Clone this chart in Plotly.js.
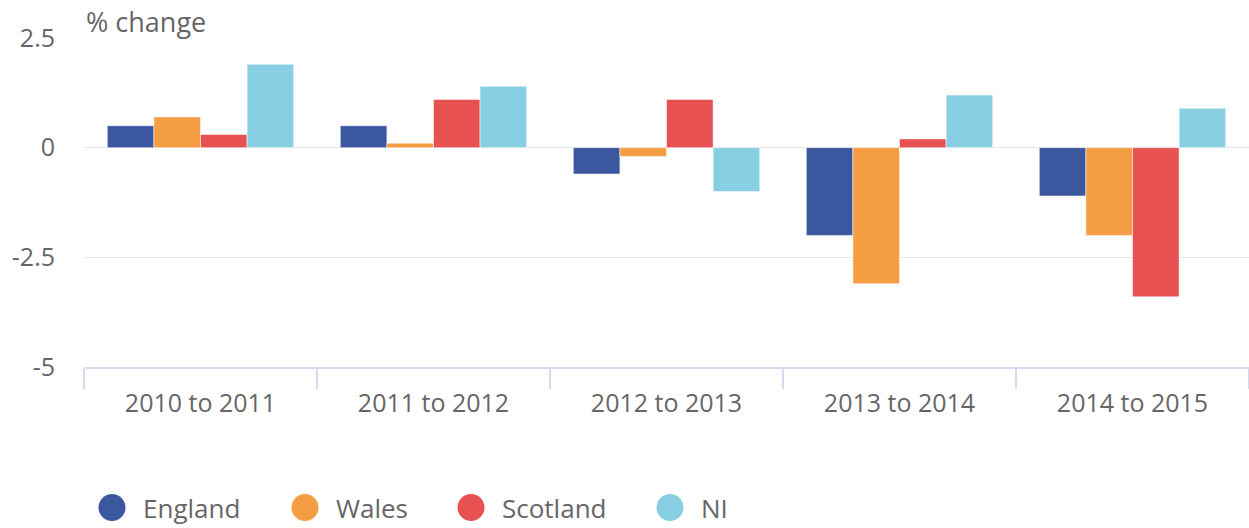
<!DOCTYPE html>
<html><head><meta charset="utf-8">
<script src="https://cdn.plot.ly/plotly-3.0.1.min.js"></script>
<style>html,body{margin:0;padding:0;background:#fff;overflow:hidden}</style>
</head><body>
<div id="chart" style="width:1249px;height:528px"></div>
<script>
const categories = ["2010 to 2011", "2011 to 2012", "2012 to 2013", "2013 to 2014", "2014 to 2015"];
const england  = [0.5, 0.5, -0.6, -2.0, -1.1];
const wales    = [0.7, 0.1, -0.2, -3.1, -2.0];
const scotland = [0.3, 1.1, 1.1, 0.2, -3.4];
const ni       = [1.9, 1.4, -1.0, 1.2, 0.9];
const seriesNames = ["England", "Wales", "Scotland", "NI"];
const yTickVals = [-5, -2.5, 0, 2.5];
const yTickText = ["-5", "-2.5", "0", "2.5"];

const colors = ["#3B57A0", "#F59D42", "#E85152", "#89CFE4"];
const values = [england, wales, scotland, ni];
const font = "'Open Sans', 'Noto Sans', sans-serif";

const W = 1249, H = 528;
const M = {l: 84, r: 0, t: 38, b: 161};
const plotW = W - M.l - M.r, plotH = H - M.t - M.b;
const px2x = p => (p - M.l) / plotW;
const py2y = p => (H - M.b - p) / plotH;

const traces = values.map((v, i) => ({
  type: "bar", x: categories, y: v, name: seriesNames[i],
  marker: {color: colors[i], line: {color: "rgba(255,255,255,0.5)", width: 1}},
  showlegend: false, hoverinfo: "x+y+name"
}));

// custom legend: circle markers + labels
const legendCenters = [112, 305, 471, 670];
const legendY = py2y(507.5);
const shapes = [];
const annotations = [{
  text: "% change", xref: "paper", yref: "paper", x: px2x(84), y: py2y(22),
  xanchor: "left", yanchor: "middle", showarrow: false,
  font: {size: 27, color: "#666666", family: font}
}];
seriesNames.forEach((n, i) => {
  const cx = px2x(legendCenters[i]);
  shapes.push({
    type: "circle", xref: "paper", yref: "paper",
    xsizemode: "pixel", ysizemode: "pixel", xanchor: cx, yanchor: legendY,
    x0: -13.5, x1: 13.5, y0: -13.5, y1: 13.5,
    fillcolor: colors[i], line: {width: 0}, layer: "above"
  });
  annotations.push({
    text: n, xref: "paper", yref: "paper", x: px2x(legendCenters[i] + 29), y: legendY,
    xanchor: "left", yanchor: "middle", showarrow: false,
    font: {size: 26, color: "#666666", family: font}
  });
});

const layout = {
  width: W, height: H, margin: M,
  paper_bgcolor: "#fff", plot_bgcolor: "#fff",
  font: {family: font, color: "#666666", size: 25},
  barmode: "group", bargap: 0.2, bargroupgap: 0,
  xaxis: {
    type: "category", tickson: "boundaries", ticks: "outside", ticklen: 20,
    tickcolor: "#d3dbee", tickwidth: 2,
    showline: true, linecolor: "#d3dbee", linewidth: 2,
    showgrid: false, zeroline: false,
    tickfont: {size: 25, color: "#666666"}, ticklabelstandoff: 13,
    fixedrange: true
  },
  yaxis: {
    range: [-5, 2.5], tickvals: yTickVals, ticktext: yTickText,
    showgrid: true, gridcolor: "#e6e6e6", gridwidth: 1.5,
    zeroline: true, zerolinecolor: "#e6e6e6", zerolinewidth: 1.5,
    showline: false, ticks: "",
    tickfont: {size: 25, color: "#666666"}, ticklabelstandoff: 28,
    fixedrange: true
  },
  shapes: shapes,
  annotations: annotations,
  showlegend: false
};

Plotly.newPlot("chart", traces, layout, {displayModeBar: false, staticPlot: true});
</script>
</body></html>
